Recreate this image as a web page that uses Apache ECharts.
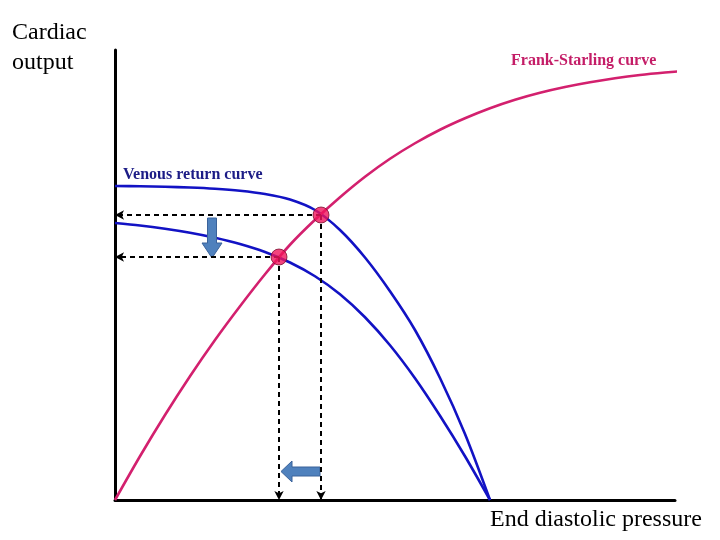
<!DOCTYPE html>
<html><head><meta charset="utf-8">
<script src="https://cdn.jsdelivr.net/npm/echarts@6/dist/echarts.min.js"></script>
<style>html,body{margin:0;padding:0;background:#fff}#c{width:720px;height:540px}</style>
</head><body><div id="c"></div>
<script>
// Frank-Starling curve [pressure, output]
const frankStarling = [[0,0],[25,43.75],[50,85],[75,123.75],[100,160],[125,193.75],[150,225.75],[175,255.25],[200,280.25],[225,302.75],[250,323.25],[275,341.25],[300,356.75],[325,370.25],[350,381.75],[375,391.75],[400,400.25],[425,407.25],[450,413],[475,417.75],[500,421.75],[525,425],[550,427.5],[572,429.3]];
// Venous return curves
const venousReturn1 = [[0,314],[25,313.75],[50,313.25],[75,312.5],[100,311.25],[125,309.25],[150,306],[175,300.5],[200,290],[225,270],[250,242.5],[275,208.75],[300,170],[325,122],[350,66],[375,0]];
const venousReturn2 = [[0,277],[25,274.5],[50,271.25],[75,267.25],[100,262.25],[125,256],[150,248],[175,237.5],[200,223.75],[225,205.75],[250,182.75],[275,154.75],[300,121.75],[325,84.25],[350,43.75],[375,0]];
// Equilibrium points
const equilibria = [[206,285],[164,243]];
// Block arrows (shift indicators)
const downArrow = {x:97, yTop:282, yHeadBase:257, yTip:242, shaftHalf:4.5, headHalf:10};
const leftArrow = {y:28.5, xRight:205, xHeadBase:177, xTip:166, shaftHalf:4.5, headHalf:10.5};

const chart = echarts.init(document.getElementById('c'));
const serif = '"Liberation Serif","Times New Roman",serif';

function eqLines(){
  const out = [];
  equilibria.forEach(p => {
    out.push([{coord:[p[0],p[1]]},{coord:[0,p[1]]}]);
    out.push([{coord:[p[0],p[1]]},{coord:[p[0],0]}]);
  });
  return out;
}

chart.setOption({
  animation:false,
  grid:{left:115, top:50, width:560, height:450},
  xAxis:{type:'value', min:0, max:560, axisLine:{show:true, onZero:false, lineStyle:{color:'#000', width:3}}, axisTick:{show:false}, axisLabel:{show:false}, splitLine:{show:false}},
  yAxis:{type:'value', min:0, max:450, axisLine:{show:true, onZero:false, lineStyle:{color:'#000', width:3}}, axisTick:{show:false}, axisLabel:{show:false}, splitLine:{show:false}},
  series:[
    {type:'line', data:venousReturn1, smooth:0.3, showSymbol:false, clip:false, lineStyle:{color:'#1212c4', width:2.6}, z:3},
    {type:'line', data:venousReturn2, smooth:0.3, showSymbol:false, clip:false, lineStyle:{color:'#1212c4', width:2.6}, z:3},
    {type:'line', data:frankStarling, smooth:0.3, showSymbol:false, clip:false, lineStyle:{color:'#d3206e', width:2.6}, z:3,
      markLine:{silent:true, symbol:['none','arrow'], symbolSize:[7,9], label:{show:false},
        lineStyle:{color:'#000', type:[5,4], width:2}, data:eqLines()}},
    {type:'custom', coordinateSystem:'cartesian2d', data:[[0]], z:4,
      renderItem:function(params, api){
        const d = downArrow, l = leftArrow;
        const dp = [[d.x-d.shaftHalf,d.yTop],[d.x+d.shaftHalf,d.yTop],[d.x+d.shaftHalf,d.yHeadBase],[d.x+d.headHalf,d.yHeadBase],[d.x,d.yTip],[d.x-d.headHalf,d.yHeadBase],[d.x-d.shaftHalf,d.yHeadBase]].map(p=>api.coord(p));
        const lp = [[l.xRight,l.y+l.shaftHalf],[l.xRight,l.y-l.shaftHalf],[l.xHeadBase,l.y-l.shaftHalf],[l.xHeadBase,l.y-l.headHalf],[l.xTip,l.y],[l.xHeadBase,l.y+l.headHalf],[l.xHeadBase,l.y+l.shaftHalf]].map(p=>api.coord(p));
        const st = {fill:'#4f81bd', stroke:'#3a629a', lineWidth:1};
        return {type:'group', children:[
          {type:'polygon', shape:{points:dp}, style:st},
          {type:'polygon', shape:{points:lp}, style:st}
        ]};
      }},
    {type:'scatter', data:equilibria, symbol:'circle', symbolSize:16, z:5,
      itemStyle:{color:'#f0145c', borderColor:'#7a1030', borderWidth:1}}
  ],
  graphic:[
    {type:'text', left:12, top:18, style:{text:'Cardiac\noutput', font:'24px '+serif, fill:'#000', lineHeight:30}},
    {type:'text', left:490, top:508, style:{text:'End diastolic pressure', font:'24px '+serif, fill:'#000'}},
    {type:'text', left:511, top:53, style:{text:'Frank-Starling curve', font:'bold 16px '+serif, fill:'#c41d67'}},
    {type:'text', left:123, top:167, style:{text:'Venous return curve', font:'bold 16px '+serif, fill:'#1c1c86'}}
  ]
});
</script></body></html>
